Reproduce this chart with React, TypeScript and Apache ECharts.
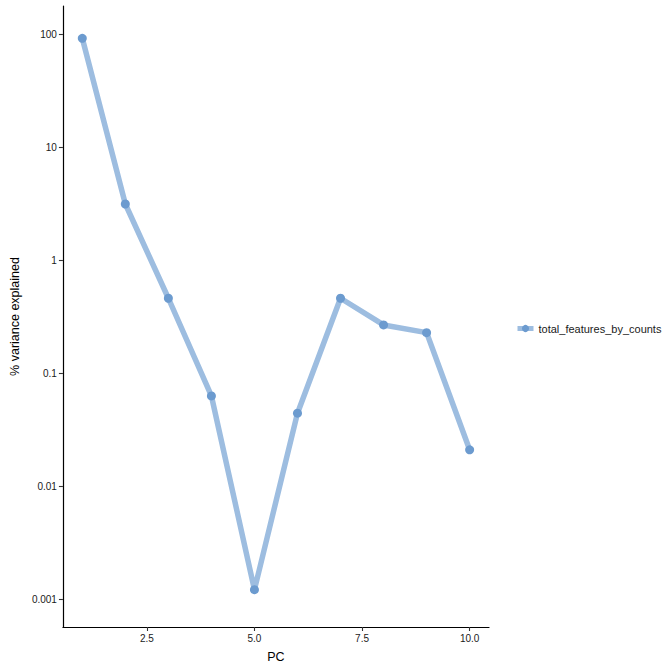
import React, { useEffect, useRef } from "react";
import * as echarts from "echarts";

const pcs = [1, 2, 3, 4, 5, 6, 7, 8, 9, 10];
const varianceExplained = [92.9, 3.16, 0.462, 0.063, 0.00121, 0.0443, 0.462, 0.268, 0.229, 0.021];
const seriesName = "total_features_by_counts";
const yTicks = [0.001, 0.01, 0.1, 1, 10, 100];
const yTickLabels = ["0.001", "0.01", "0.1", "1", "10", "100"];
const xTicks = [2.5, 5, 7.5, 10];
const xTickLabels = ["2.5", "5.0", "7.5", "10.0"];

const FONT = "'Liberation Sans', Arial, Helvetica, sans-serif";

export default function App() {
  const ref = useRef<HTMLDivElement>(null);
  useEffect(() => {
    if (!ref.current) return;
    const chart = echarts.init(ref.current, null, { renderer: "svg" });
    const data = pcs.map((p, i) => [p, varianceExplained[i]]);
    chart.setOption({
      animation: false,
      backgroundColor: "#ffffff",
      textStyle: { fontFamily: FONT },
      grid: { left: 60, right: 183, top: 6, bottom: 45, containLabel: false },
      legend: {
        data: [seriesName],
        orient: "vertical",
        left: 510,
        top: 318,
        itemWidth: 16,
        itemHeight: 9,
        itemGap: 5,
        lineStyle: { width: 5, color: "#9dbde0" },
        textStyle: { fontFamily: FONT, fontSize: 11, color: "#1a1a1a", padding: [0, 0, 0, 0] },
      },
      xAxis: {
        type: "value",
        min: 0.55,
        max: 10.45,
        name: "PC",
        nameLocation: "middle",
        nameGap: 23,
        nameTextStyle: { fontFamily: FONT, fontSize: 12.5, color: "#000" },
        splitLine: { show: false },
        axisLine: { show: true, lineStyle: { color: "#000", width: 1.2 } },
        axisTick: {
          show: true,
          length: 4,
          lineStyle: { color: "#333", width: 1.1 },
          customValues: xTicks,
        },
        axisLabel: {
          fontFamily: FONT,
          fontSize: 10,
          color: "#1a1a1a",
          margin: 6,
          customValues: xTicks,
          formatter: (v: number) => {
            const i = xTicks.indexOf(v);
            return i >= 0 ? xTickLabels[i] : "";
          },
        },
      },
      yAxis: {
        type: "log",
        logBase: 10,
        min: 0.000565,
        max: 179.5,
        name: "% variance explained",
        nameLocation: "middle",
        nameGap: 37,
        nameTextStyle: { fontFamily: FONT, fontSize: 12.5, color: "#000" },
        splitLine: { show: false },
        axisLine: { show: true, lineStyle: { color: "#000", width: 1.2 } },
        axisTick: {
          show: true,
          length: 4,
          lineStyle: { color: "#333", width: 1.1 },
          customValues: yTicks,
        },
        axisLabel: {
          fontFamily: FONT,
          fontSize: 10,
          color: "#1a1a1a",
          margin: 6,
          customValues: yTicks,
          formatter: (v: number) => {
            let best = -1;
            yTicks.forEach((t, i) => {
              if (Math.abs(Math.log10(v) - Math.log10(t)) < 1e-6) best = i;
            });
            return best >= 0 ? yTickLabels[best] : "";
          },
        },
      },
      series: [
        {
          name: seriesName,
          type: "line",
          data,
          symbol: "circle",
          symbolSize: 9,
          showAllSymbol: true,
          itemStyle: { color: "#6c9bcf" },
          lineStyle: { color: "#9dbde0", width: 5.5 },
          z: 2,
        },
      ],
    });
    return () => chart.dispose();
  }, []);
  return <div ref={ref} style={{ width: 672, height: 672, position: "absolute", left: 0, top: 0 }} />;
}
